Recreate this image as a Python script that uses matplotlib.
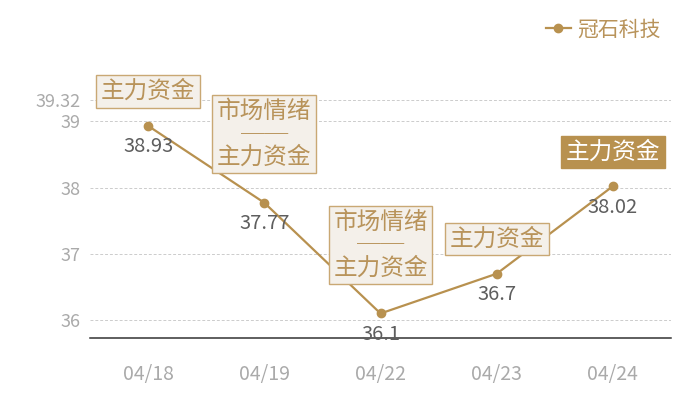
import matplotlib
matplotlib.use("Agg")
import matplotlib.pyplot as plt

plt.rcParams['font.family'] = ['Noto Sans CJK SC', 'DejaVu Sans']

# data
dates = ['04/18', '04/19', '04/22', '04/23', '04/24']
prices = [38.93, 37.77, 36.1, 36.7, 38.02]
tags = ['主力资金', '市场情绪\n──\n主力资金', '市场情绪\n──\n主力资金', '主力资金', '主力资金']
yticks = [36, 37, 38, 39, 39.32]
y_low, y_high = 35.73, 39.32
series_name = '冠石科技'

gold = '#b8914f'
tag_text = '#b8935a'

fig = plt.figure(figsize=(7, 4), dpi=100)
ax = fig.add_axes([0.1286, 0.155, 0.83, 0.595])

x = list(range(len(dates)))
ax.plot(x, prices, color=gold, lw=1.6, marker='o', ms=6, label=series_name, zorder=3)

ax.set_xlim(-0.5, len(dates) - 0.5)
ax.set_ylim(y_low, y_high)
ax.set_yticks(yticks)
ax.set_yticklabels([f'{v:g}' for v in yticks])
ax.set_xticks(x)
ax.set_xticklabels(dates)
ax.tick_params(axis='y', length=0, pad=7, labelsize=13, labelcolor='#aaaaaa')
ax.tick_params(axis='x', length=0, pad=19, labelsize=14, labelcolor='#aaaaaa')
ax.grid(axis='y', color='#cccccc', ls=(0, (3, 2)), lw=0.7)
ax.set_axisbelow(True)
for s in ['left', 'right', 'top']:
    ax.spines[s].set_visible(False)
ax.spines['bottom'].set_color('#333333')
ax.spines['bottom'].set_linewidth(1.1)

# value labels under points
for i, v in enumerate(prices):
    ax.annotate(f'{v:g}', (i, v), xytext=(0, -15), textcoords='offset points',
                ha='center', va='center', fontsize=14.5, color='#5e5e5e', zorder=4)

# tag boxes above points
for i, (v, t) in enumerate(zip(prices, tags)):
    last = i == len(prices) - 1
    off = 24.5 if '\n' in t else 16.5
    ax.annotate(t, (i, v), xytext=(0, off), textcoords='offset points',
                ha='center', va='bottom', fontsize=17, linespacing=1.0,
                color='white' if last else tag_text,
                bbox=dict(boxstyle='square,pad=0.2',
                          fc=gold if last else '#f4f0ea',
                          ec=gold if last else '#c9a874', lw=1),
                zorder=5, annotation_clip=False)

leg = fig.legend(loc='upper right', bbox_to_anchor=(0.97, 1.0), frameon=False,
                 fontsize=15, handlelength=1.2, handletextpad=0.3)
for txt in leg.get_texts():
    txt.set_color(tag_text)

fig.savefig('out.png', dpi=100)
